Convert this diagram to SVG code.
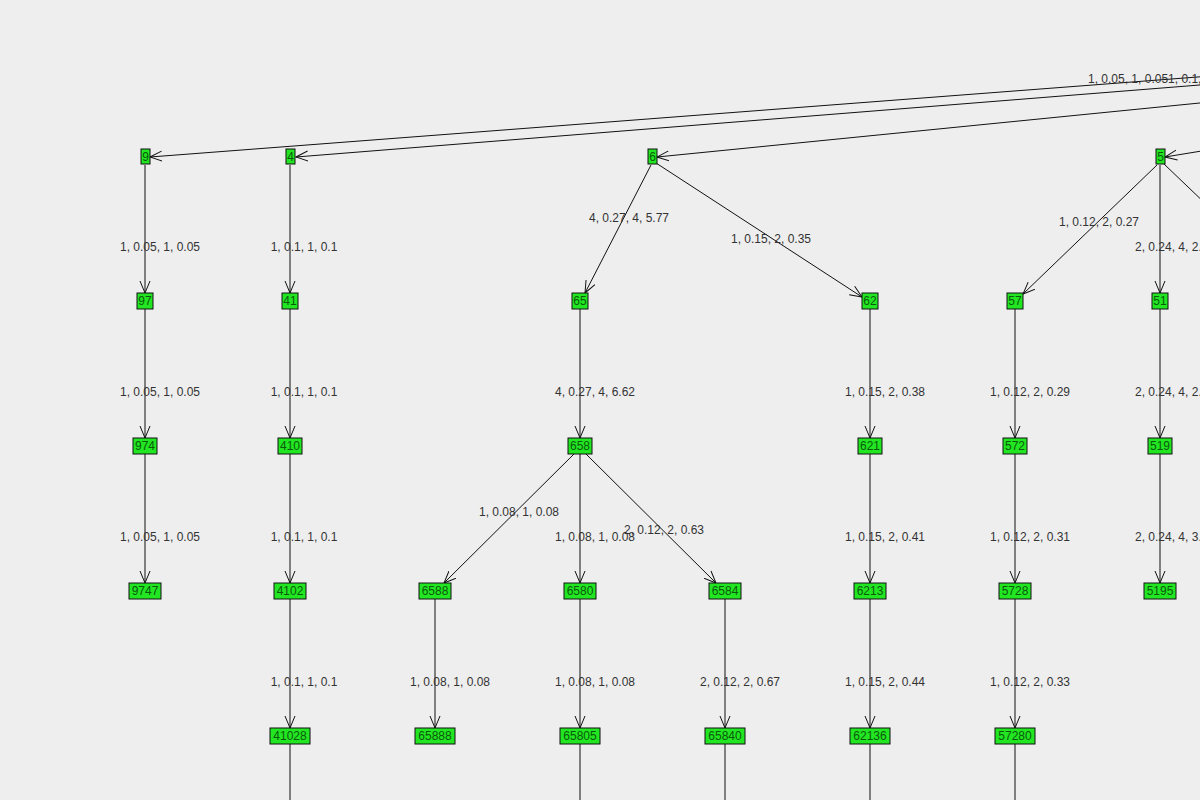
<svg xmlns="http://www.w3.org/2000/svg" width="1200" height="800" viewBox="0 0 1200 800">
<style>
.e{stroke:#111;stroke-width:1;fill:none}
.n rect{fill:#22e622;stroke:#111;stroke-width:1}
.n text{font-family:"Liberation Sans",Arial,sans-serif;font-size:12px;fill:#0a5a0a;text-anchor:middle}
.l{font-family:"Liberation Sans",Arial,sans-serif;font-size:12px;fill:#333;text-anchor:middle}
</style>
<defs>
<marker id="a" markerWidth="14" markerHeight="12" refX="12" refY="6" orient="auto" markerUnits="userSpaceOnUse">
<path d="M0,1 L12,6 L0,11" fill="none" stroke="#111" stroke-width="1"/>
</marker>
</defs>
<rect width="1200" height="800" fill="#eeeeee"/>
<g id="connectors">
<line class="e" x1="1250" y1="73" x2="150" y2="157" marker-end="url(#a)"/>
<line class="e" x1="1250" y1="81" x2="296" y2="157" marker-end="url(#a)"/>
<line class="e" x1="1250" y1="98" x2="657" y2="157" marker-end="url(#a)"/>
<line class="e" x1="1220" y1="148" x2="1165" y2="157" marker-end="url(#a)"/>
<line class="e" x1="145" y1="165" x2="145" y2="293" marker-end="url(#a)"/>
<line class="e" x1="145" y1="309" x2="145" y2="438" marker-end="url(#a)"/>
<line class="e" x1="145" y1="454" x2="145" y2="583" marker-end="url(#a)"/>
<line class="e" x1="290" y1="165" x2="290" y2="293" marker-end="url(#a)"/>
<line class="e" x1="290" y1="309" x2="290" y2="438" marker-end="url(#a)"/>
<line class="e" x1="290" y1="454" x2="290" y2="583" marker-end="url(#a)"/>
<line class="e" x1="290" y1="599" x2="290" y2="728" marker-end="url(#a)"/>
<line class="e" x1="290" y1="744" x2="290" y2="800"/>
<line class="e" x1="651" y1="165" x2="585" y2="293" marker-end="url(#a)"/>
<line class="e" x1="656" y1="163" x2="862" y2="297" marker-end="url(#a)"/>
<line class="e" x1="580" y1="309" x2="580" y2="438" marker-end="url(#a)"/>
<line class="e" x1="574" y1="454" x2="444" y2="583" marker-end="url(#a)"/>
<line class="e" x1="580" y1="454" x2="580" y2="583" marker-end="url(#a)"/>
<line class="e" x1="586" y1="454" x2="716" y2="583" marker-end="url(#a)"/>
<line class="e" x1="435" y1="599" x2="435" y2="728" marker-end="url(#a)"/>
<line class="e" x1="580" y1="599" x2="580" y2="728" marker-end="url(#a)"/>
<line class="e" x1="580" y1="744" x2="580" y2="800"/>
<line class="e" x1="725" y1="599" x2="725" y2="728" marker-end="url(#a)"/>
<line class="e" x1="725" y1="744" x2="725" y2="800"/>
<line class="e" x1="870" y1="309" x2="870" y2="438" marker-end="url(#a)"/>
<line class="e" x1="870" y1="454" x2="870" y2="583" marker-end="url(#a)"/>
<line class="e" x1="870" y1="599" x2="870" y2="728" marker-end="url(#a)"/>
<line class="e" x1="870" y1="744" x2="870" y2="800"/>
<line class="e" x1="1157" y1="165" x2="1023" y2="294" marker-end="url(#a)"/>
<line class="e" x1="1160" y1="165" x2="1160" y2="293" marker-end="url(#a)"/>
<line class="e" x1="1164" y1="164" x2="1210" y2="208"/>
<line class="e" x1="1015" y1="309" x2="1015" y2="438" marker-end="url(#a)"/>
<line class="e" x1="1015" y1="454" x2="1015" y2="583" marker-end="url(#a)"/>
<line class="e" x1="1015" y1="599" x2="1015" y2="728" marker-end="url(#a)"/>
<line class="e" x1="1015" y1="744" x2="1015" y2="800"/>
<line class="e" x1="1160" y1="309" x2="1160" y2="438" marker-end="url(#a)"/>
<line class="e" x1="1160" y1="454" x2="1160" y2="583" marker-end="url(#a)"/>
</g>
<g id="labels">
<text class="l" x="1088" y="83" text-anchor="start" style="text-anchor:start">1, 0.05, 1, 0.051, 0.1,</text>
<text class="l" x="160" y="251">1, 0.05, 1, 0.05</text>
<text class="l" x="160" y="396">1, 0.05, 1, 0.05</text>
<text class="l" x="160" y="541">1, 0.05, 1, 0.05</text>
<text class="l" x="304" y="251">1, 0.1, 1, 0.1</text>
<text class="l" x="304" y="396">1, 0.1, 1, 0.1</text>
<text class="l" x="304" y="541">1, 0.1, 1, 0.1</text>
<text class="l" x="304" y="686">1, 0.1, 1, 0.1</text>
<text class="l" x="629" y="222">4, 0.27, 4, 5.77</text>
<text class="l" x="771" y="243">1, 0.15, 2, 0.35</text>
<text class="l" x="595" y="396">4, 0.27, 4, 6.62</text>
<text class="l" x="519" y="516">1, 0.08, 1, 0.08</text>
<text class="l" x="595" y="541">1, 0.08, 1, 0.08</text>
<text class="l" x="664" y="534">2, 0.12, 2, 0.63</text>
<text class="l" x="450" y="686">1, 0.08, 1, 0.08</text>
<text class="l" x="595" y="686">1, 0.08, 1, 0.08</text>
<text class="l" x="740" y="686">2, 0.12, 2, 0.67</text>
<text class="l" x="885" y="396">1, 0.15, 2, 0.38</text>
<text class="l" x="885" y="541">1, 0.15, 2, 0.41</text>
<text class="l" x="885" y="686">1, 0.15, 2, 0.44</text>
<text class="l" x="1099" y="226">1, 0.12, 2, 0.27</text>
<text class="l" x="1030" y="396">1, 0.12, 2, 0.29</text>
<text class="l" x="1030" y="541">1, 0.12, 2, 0.31</text>
<text class="l" x="1030" y="686">1, 0.12, 2, 0.33</text>
<text class="l" x="1135" y="251" style="text-anchor:start">2, 0.24, 4, 2.</text>
<text class="l" x="1135" y="396" style="text-anchor:start">2, 0.24, 4, 2.</text>
<text class="l" x="1135" y="541" style="text-anchor:start">2, 0.24, 4, 3.</text>
</g>
<g id="n9" class="n"><rect x="141" y="149" width="9" height="15"/><text x="145.5" y="161">9</text></g>
<g id="n4" class="n"><rect x="286" y="149" width="9" height="15"/><text x="290.5" y="161">4</text></g>
<g id="n6" class="n"><rect x="648" y="149" width="9" height="15"/><text x="652.5" y="161">6</text></g>
<g id="n5" class="n"><rect x="1156" y="149" width="9" height="15"/><text x="1160.5" y="161">5</text></g>
<g id="n97" class="n"><rect x="137" y="293" width="16" height="16"/><text x="145" y="305">97</text></g>
<g id="n41" class="n"><rect x="282" y="293" width="16" height="16"/><text x="290" y="305">41</text></g>
<g id="n65" class="n"><rect x="572" y="293" width="16" height="16"/><text x="580" y="305">65</text></g>
<g id="n62" class="n"><rect x="862" y="293" width="16" height="16"/><text x="870" y="305">62</text></g>
<g id="n57" class="n"><rect x="1007" y="293" width="16" height="16"/><text x="1015" y="305">57</text></g>
<g id="n51" class="n"><rect x="1152" y="293" width="16" height="16"/><text x="1160" y="305">51</text></g>
<g id="n974" class="n"><rect x="133" y="438" width="24" height="16"/><text x="145" y="450">974</text></g>
<g id="n410" class="n"><rect x="278" y="438" width="24" height="16"/><text x="290" y="450">410</text></g>
<g id="n658" class="n"><rect x="568" y="438" width="24" height="16"/><text x="580" y="450">658</text></g>
<g id="n621" class="n"><rect x="858" y="438" width="24" height="16"/><text x="870" y="450">621</text></g>
<g id="n572" class="n"><rect x="1003" y="438" width="24" height="16"/><text x="1015" y="450">572</text></g>
<g id="n519" class="n"><rect x="1148" y="438" width="24" height="16"/><text x="1160" y="450">519</text></g>
<g id="n9747" class="n"><rect x="129" y="583" width="32" height="16"/><text x="145" y="595">9747</text></g>
<g id="n4102" class="n"><rect x="274" y="583" width="32" height="16"/><text x="290" y="595">4102</text></g>
<g id="n6588" class="n"><rect x="419" y="583" width="32" height="16"/><text x="435" y="595">6588</text></g>
<g id="n6580" class="n"><rect x="564" y="583" width="32" height="16"/><text x="580" y="595">6580</text></g>
<g id="n6584" class="n"><rect x="709" y="583" width="32" height="16"/><text x="725" y="595">6584</text></g>
<g id="n6213" class="n"><rect x="854" y="583" width="32" height="16"/><text x="870" y="595">6213</text></g>
<g id="n5728" class="n"><rect x="999" y="583" width="32" height="16"/><text x="1015" y="595">5728</text></g>
<g id="n5195" class="n"><rect x="1144" y="583" width="32" height="16"/><text x="1160" y="595">5195</text></g>
<g id="n41028" class="n"><rect x="270" y="728" width="40" height="16"/><text x="290" y="740">41028</text></g>
<g id="n65888" class="n"><rect x="415" y="728" width="40" height="16"/><text x="435" y="740">65888</text></g>
<g id="n65805" class="n"><rect x="560" y="728" width="40" height="16"/><text x="580" y="740">65805</text></g>
<g id="n65840" class="n"><rect x="705" y="728" width="40" height="16"/><text x="725" y="740">65840</text></g>
<g id="n62136" class="n"><rect x="850" y="728" width="40" height="16"/><text x="870" y="740">62136</text></g>
<g id="n57280" class="n"><rect x="995" y="728" width="40" height="16"/><text x="1015" y="740">57280</text></g>
</svg>
